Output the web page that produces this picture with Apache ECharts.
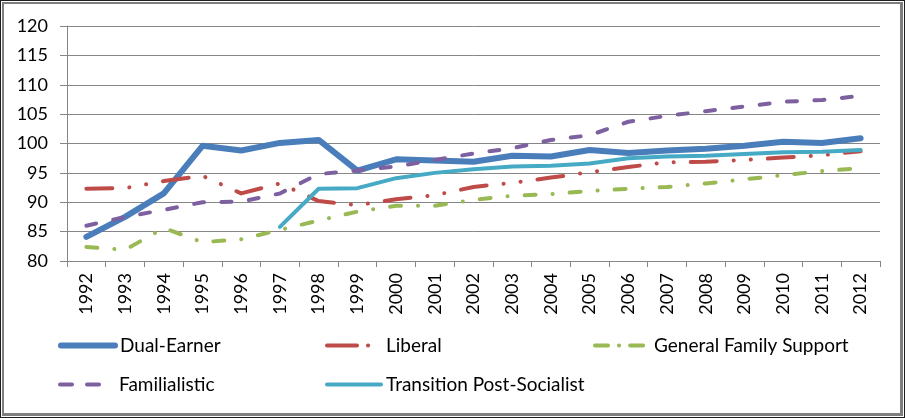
<!DOCTYPE html>
<html><head><meta charset="utf-8">
<script src="https://cdn.jsdelivr.net/npm/echarts@6/dist/echarts.min.js"></script>
<style>
html,body{margin:0;padding:0;background:#fff;}
#wrap{position:relative;width:905px;height:418px;}
#chart{position:absolute;left:0;top:0;width:905px;height:418px;}
#frame{position:absolute;left:0;top:0;width:905px;height:418px;box-sizing:border-box;border:1px solid #1e1e1e;pointer-events:none;}
#frame2{position:absolute;left:1px;top:1px;right:1px;bottom:1px;box-sizing:border-box;border-style:solid;border-color:#7f7f7f;border-width:2px 3px 3px 2px;pointer-events:none;}
</style></head>
<body>
<div id="wrap"><div id="chart"></div><div id="frame"><div id="frame2"></div></div></div>
<script>
const years = ['1992','1993','1994','1995','1996','1997','1998','1999','2000','2001','2002','2003','2004','2005','2006','2007','2008','2009','2010','2011','2012'];
const dualEarner = [84.1,87.5,91.5,99.6,98.8,100.1,100.6,95.4,97.3,97.1,96.9,97.9,97.8,98.9,98.4,98.8,99.1,99.6,100.3,100.1,100.9];
const liberal = [92.3,92.4,93.6,94.5,91.5,93.2,90.2,89.5,90.5,91.2,92.6,93.3,94.2,95.1,96.0,96.8,96.9,97.2,97.6,98.0,98.7];
const generalFamily = [82.4,81.9,85.6,83.2,83.7,85.3,86.9,88.4,89.4,89.4,90.4,91.1,91.4,91.9,92.3,92.6,93.2,93.9,94.6,95.3,95.8];
const familialistic = [86.0,87.5,88.7,90.0,90.1,91.5,94.8,95.4,96.1,97.2,98.3,99.2,100.6,101.4,103.7,104.7,105.5,106.3,107.1,107.4,108.1];
const transition = [null,null,null,null,null,85.8,92.3,92.4,94.1,95.0,95.6,96.1,96.2,96.6,97.5,97.8,97.9,98.2,98.5,98.6,98.9];
const yTicks = {min:80, max:120, interval:5};

const FONT = 'Lato, "Open Sans", sans-serif';
const names = ['Dual-Earner','Liberal','General Family Support','Familialistic','Transition Post-Socialist'];
const colors = ['#4A7EBB','#BE4B48','#98B954','#7D60A0','#46AAC5'];
const lineStyles = [
  {width:6, type:'solid', cap:'round', join:'round'},
  {width:4, type:[26,17,0.1,17,0.1,17], cap:'round', join:'round'},
  {width:4, type:[11,17,0.1,17], cap:'round', join:'round'},
  {width:4, type:[10,17.5], cap:'round', join:'round'},
  {width:4, type:'solid', cap:'round', join:'round'}
];
const dataArr = [dualEarner, liberal, generalFamily, familialistic, transition];

const series = names.map((n,i)=>({
  name:n, type:'line', data:dataArr[i], symbol:'none', smooth:false,
  connectNulls:false, lineStyle:Object.assign({color:colors[i]}, lineStyles[i]),
  itemStyle:{color:colors[i]}, emphasis:{disabled:true}, animation:false
}));

const legendPos = [[58,336],[325,336],[593,336],[58,375],[325,375]];
const legendLine = [
  {width:6,type:'solid',cap:'round'},
  {width:4,type:[30,11,0.1,20],cap:'round'},
  {width:4,type:[13,11,0.1,11],cap:'round'},
  {width:4,type:[12,15],cap:'round'},
  {width:4,type:'solid',cap:'round'}
];
const legends = names.map((n,i)=>({
  data:[n], left:legendPos[i][0], top:legendPos[i][1], itemWidth:54, itemHeight:20, itemGap:0,
  padding:0, selectedMode:false, orient:'horizontal',
  itemStyle:{opacity:0, borderWidth:0},
  lineStyle:Object.assign({color:colors[i], opacity:1}, legendLine[i]),
  textStyle:{fontFamily:FONT, fontSize:19, color:'#000'}
}));

const chart = echarts.init(document.getElementById('chart'), null, {renderer:'canvas'});
chart.setOption({
  backgroundColor:'#fff',
  animation:false,
  grid:{left:67, right:25, top:26, bottom:157, containLabel:false},
  legend:legends,
  xAxis:{type:'category', data:years, boundaryGap:true,
    axisLine:{lineStyle:{color:'#868686', width:1}},
    axisTick:{show:true, length:6, lineStyle:{color:'#868686'}, alignWithLabel:false},
    axisLabel:{rotate:90, margin:12, fontFamily:FONT, fontSize:18, color:'#000', interval:0}
  },
  yAxis:{type:'value', min:yTicks.min, max:yTicks.max, interval:yTicks.interval,
    axisLine:{show:true, lineStyle:{color:'#868686', width:1}},
    axisTick:{show:true, length:7, lineStyle:{color:'#868686'}},
    splitLine:{show:true, lineStyle:{color:'#868686', width:1}},
    axisLabel:{margin:19, fontFamily:FONT, fontSize:18, color:'#000'}
  },
  series:series
});
</script>
</body></html>
